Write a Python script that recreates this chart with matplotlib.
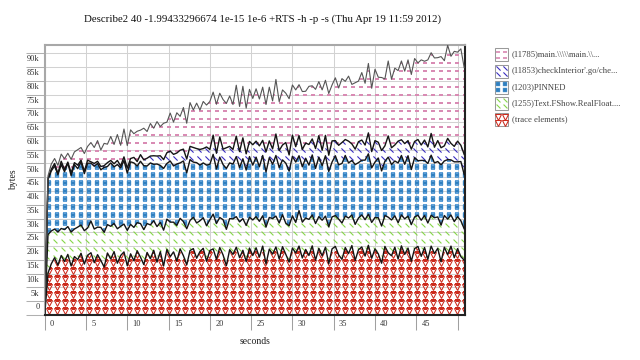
import numpy as np
import matplotlib
matplotlib.use("Agg")
import matplotlib.pyplot as plt
from matplotlib.path import Path
from matplotlib.patches import Rectangle
from matplotlib.transforms import ScaledTranslation

plt.rcParams['font.family'] = ['Liberation Serif', 'DejaVu Serif']

title = "Describe2 40 -1.99433296674 1e-15 1e-6 +RTS -h -p -s (Thu Apr 19 11:59 2012)"

# sample times (seconds)
sample_interval = 0.4
n_samples = 128
times = [round(i * sample_interval, 1) for i in range(n_samples)]

# band sizes in kilobytes, bottom to top
trace_elements = [
    0, 15.2, 18.6, 20.8, 18.1, 21.6, 19.4, 22.0, 17.8, 21.2, 20.1, 22.4, 18.5, 21.7, 22.6, 19.0,
    21.9, 19.8, 17.4, 22.5, 20.3, 23.0, 18.8, 21.6, 22.9, 17.9, 22.2, 19.7, 23.3, 21.0, 18.3, 22.7,
    20.4, 23.5, 19.2, 23.0, 17.8, 23.8, 21.2, 22.9, 19.6, 24.0, 21.5, 18.2, 23.4, 24.1, 20.6, 23.0,
    24.2, 19.5, 23.4, 24.0, 20.2, 24.5, 21.8, 17.9, 23.7, 22.0, 24.6, 20.8, 23.5, 19.4, 24.3, 21.6,
    24.4, 21.0, 25.0, 18.5, 23.9, 22.1, 24.7, 20.3, 24.8, 22.0, 19.2, 24.3, 22.5, 25.0, 20.7, 23.8,
    21.6, 25.1, 19.9, 24.2, 21.5, 24.6, 18.6, 24.0, 24.9, 21.8, 20.2, 24.5, 22.3, 25.2, 19.8, 23.7,
    24.7, 21.4, 25.3, 20.6, 24.0, 22.2, 18.8, 24.9, 22.6, 21.5, 24.6, 20.3, 25.1, 22.0, 24.3, 19.5,
    24.1, 24.9, 21.3, 24.5, 20.2, 25.0, 22.3, 24.2, 19.3, 24.6, 21.9, 25.0, 20.8, 24.1, 21.2, 19.9,
]
text_fshow = [
    0, 14.0, 11.9, 10.4, 12.0, 9.8, 11.6, 10.1, 12.3, 10.0, 11.8, 10.3, 12.1, 9.9, 11.5, 12.2,
    10.0, 12.0, 12.6, 10.3, 11.9, 10.2, 12.5, 10.6, 10.1, 12.8, 10.7, 12.1, 10.2, 12.2, 12.7, 10.5,
    12.3, 10.7, 12.9, 10.6, 13.0, 11.0, 12.5, 10.8, 12.9, 11.1, 12.4, 13.1, 10.9, 11.4, 12.8, 11.2,
    11.1, 12.9, 11.2, 12.6, 13.0, 10.9, 12.8, 13.2, 11.3, 12.9, 11.1, 13.0, 11.5, 13.1, 11.2, 12.9,
    11.3, 13.0, 11.0, 13.4, 11.5, 12.9, 11.2, 13.1, 11.6, 11.3, 13.2, 11.7, 11.1, 12.9, 13.0, 11.4,
    13.1, 11.2, 13.3, 11.5, 12.9, 11.3, 13.4, 11.6, 11.2, 13.0, 13.2, 11.4, 12.9, 11.1, 13.1, 11.5,
    11.6, 13.2, 11.3, 13.0, 11.4, 13.1, 13.5, 11.2, 12.9, 13.0, 11.4, 13.2, 11.2, 12.9, 11.6, 13.3,
    11.5, 11.3, 13.1, 11.6, 13.2, 11.2, 13.0, 11.4, 13.3, 11.5, 12.9, 11.3, 13.1, 11.6, 13.0, 11.4,
]
pinned = [
    0, 20.0, 21.8, 22.9, 20.8, 23.2, 21.0, 23.0, 20.5, 23.4, 21.2, 22.9, 20.7, 23.5, 21.0, 22.8,
    23.1, 20.9, 23.6, 21.1, 23.0, 20.6, 23.3, 21.2, 23.1, 20.8, 22.7, 23.4, 20.6, 22.6, 23.2, 20.9,
    22.5, 20.5, 22.7, 20.7, 22.4, 20.2, 22.2, 20.4, 22.3, 20.1, 22.0, 20.3, 22.1, 20.0, 21.9, 20.2,
    19.9, 22.0, 20.1, 21.7, 19.8, 21.9, 20.0, 22.1, 20.2, 19.9, 21.8, 19.7, 21.7, 20.1, 22.0, 19.9,
    21.6, 19.8, 21.9, 20.0, 21.7, 19.7, 22.0, 20.1, 19.9, 21.8, 19.8, 21.6, 21.9, 19.9, 20.1, 21.7,
    19.7, 21.8, 20.0, 21.6, 19.8, 21.9, 20.1, 19.9, 21.7, 19.7, 21.6, 22.0, 20.0, 19.8, 21.7, 20.1,
    19.9, 21.6, 21.9, 19.8, 20.1, 21.7, 20.0, 19.7, 21.8, 20.1, 19.9, 21.7, 21.6, 19.8, 21.9, 20.0,
    21.5, 19.8, 21.7, 20.0, 21.6, 21.8, 19.9, 20.1, 21.9, 19.8, 21.6, 20.0, 21.7, 19.9, 21.5, 19.7,
]
check_interior = [
    0, 0.3, 0.6, 0.9, 0.5, 1.2, 0.8, 0.4, 1.0, 0.7, 1.3, 0.6, 0.9, 1.1, 0.5, 1.0,
    0.8, 1.2, 0.6, 1.4, 0.9, 1.1, 1.5, 0.7, 1.3, 1.8, 1.2, 2.0, 1.6, 2.4, 2.1, 2.8,
    2.5, 3.1, 2.9, 3.5, 3.2, 3.9, 3.6, 4.2, 4.0, 4.6, 4.3, 5.0, 4.8, 5.3, 5.1, 5.7,
    5.2, 6.6, 5.4, 7.0, 5.7, 7.3, 5.6, 7.5, 6.0, 5.3, 7.4, 5.8, 7.6, 5.9, 5.5, 7.4,
    5.8, 7.6, 5.5, 7.3, 6.1, 5.6, 7.8, 6.2, 5.4, 7.5, 5.9, 7.7, 5.6, 7.3, 6.3, 5.5,
    7.5, 5.8, 7.2, 7.8, 5.6, 7.4, 5.9, 7.7, 5.5, 7.1, 7.6, 5.8, 7.9, 6.0, 5.6, 7.6,
    7.3, 5.5, 7.6, 5.9, 7.8, 5.7, 7.4, 5.6, 7.7, 6.1, 5.8, 7.9, 5.7, 7.5, 5.5, 7.4,
    5.9, 7.7, 5.6, 7.4, 6.0, 7.9, 5.7, 7.6, 6.2, 5.5, 7.7, 6.0, 5.6, 7.5, 5.9, 7.3,
]
main_cc = [
    0, 1.0, 1.9, 1.8, 2.9, 2.6, 3.9, 3.2, 4.9, 3.9, 5.6, 4.6, 6.4, 5.0, 7.0, 5.8,
    7.5, 6.0, 8.1, 6.7, 8.7, 7.0, 9.4, 7.5, 10.1, 8.2, 10.4, 8.6, 11.0, 8.9, 11.5, 9.7,
    11.8, 10.0, 12.5, 10.6, 13.2, 11.1, 13.8, 11.7, 14.6, 12.3, 15.1, 13.0, 15.9, 13.6, 16.5, 14.3,
    17.1, 15.2, 17.4, 15.6, 17.8, 15.9, 18.0, 16.1, 18.3, 16.3, 18.5, 16.4, 18.7, 16.6, 18.9, 16.8,
    19.0, 17.0, 19.3, 17.2, 19.5, 17.4, 19.8, 17.7, 20.0, 17.9, 20.4, 18.2, 20.6, 18.5, 21.0, 18.8,
    21.1, 19.3, 21.5, 19.6, 21.9, 20.0, 22.4, 20.3, 22.8, 20.8, 23.2, 21.1, 23.6, 21.6, 24.1, 22.0,
    24.5, 22.4, 25.2, 23.0, 25.9, 23.6, 26.5, 24.3, 27.2, 24.9, 27.9, 25.6, 28.6, 26.3, 29.3, 27.1,
    30.1, 27.8, 30.9, 28.6, 31.6, 29.3, 32.4, 30.1, 33.1, 30.9, 33.8, 31.6, 34.5, 32.3, 35.0, 31.5,
]

# legend order (top to bottom in legend)
legend_names = [
    r"(11785)main.\\\\\main.\\...",
    "(11853)checkInterior'.go/che...",
    "(1203)PINNED",
    "(1255)Text.FShow.RealFloat....",
    "(trace elements)",
]

x_ticks = [0, 5, 10, 15, 20, 25, 30, 35, 40, 45, 50]
x_tick_labels = ['0', '5', '10', '15', '20', '25', '30', '35', '40', '45', '']
y_ticks = [0, 5, 10, 15, 20, 25, 30, 35, 40, 45, 50, 55, 60, 65, 70, 75, 80, 85, 90, 95]
y_tick_labels = ['0', '5k', '10k', '15k', '20k', '25k', '30k', '35k', '40k', '45k', '50k',
                 '55k', '60k', '65k', '70k', '75k', '80k', '85k', '90k', '']

# ---------------- styles ----------------
diag = Path([(-1, 1), (1, -1)], [Path.MOVETO, Path.LINETO])
hdash = Path([(-1, 0), (1, 0)], [Path.MOVETO, Path.LINETO])
styles = [  # bottom to top
    dict(marker='v', ms=3.7, mfc='none', mec='#cc2b1d', mew=0.75),
    dict(marker=diag, ms=2.8, mfc='none', mec='#86d64a', mew=0.8),
    dict(marker='s', ms=2.4, mfc='#2f7fbf', mec='#5f9fd6', mew=0.3),
    dict(marker=diag, ms=3.0, mfc='none', mec='#3a2fbf', mew=0.8),
    dict(marker=hdash, ms=2.8, mfc='none', mec='#d98bb4', mew=1.25),
]
offsets = [(4, 4), (2, 2), (4, 4), (2, 5), (4, 4)]

fig = plt.figure(figsize=(6.4, 3.6), dpi=100)
L, R, T, B = 44.7, 465.0, 45.0, 315.0
ax = fig.add_axes([L / 640, 1 - B / 360, (R - L) / 640, (B - T) / 360])
W, H = R - L, B - T

bands = [trace_elements, text_fshow, pinned, check_interior, main_cc]
tarr = np.array(times)
cum = np.cumsum(np.array(bands), axis=0)
lower = np.vstack([np.zeros(len(times)), cum[:-1]])

step = 8.0
for k in range(len(bands)):
    poly = ax.fill_between(tarr, lower[k], cum[k], facecolor='none', edgecolor='none', lw=0)
    ox, oy = offsets[k]
    gx, gy = np.meshgrid(np.arange(ox, W, step) / W, np.arange(oy, H, step) / H)
    ln, = ax.plot(gx.ravel(), gy.ravel(), ls='none', transform=ax.transAxes,
                  zorder=2, **styles[k])
    ln.set_clip_path(poly.get_paths()[0], ax.transData)

for k in range(len(bands)):
    if k == len(bands) - 1:
        ax.plot(tarr, cum[k], color='#555555', lw=0.8, zorder=3)
    else:
        ax.plot(tarr, cum[k], color='#151515', lw=1.0, zorder=3)

ax.set_xlim(0, 50.9)
ax.set_ylim(0, 98.0)
ax.set_axisbelow(True)
ax.grid(True, color='#d2d2d2', lw=0.75)

for side in ('left', 'top'):
    ax.spines[side].set_color('#a8a8a8')
    ax.spines[side].set_linewidth(1.5)
for side in ('bottom', 'right'):
    ax.spines[side].set_color('#222222')
    ax.spines[side].set_linewidth(1.5)

ax.set_xticks(x_ticks, x_tick_labels)
ax.set_yticks(y_ticks, y_tick_labels)
ax.tick_params(axis='x', length=10.5, width=0.75, color='#a0a0a0', pad=-2.8,
               labelsize=6, labelcolor='#333333')
ax.tick_params(axis='y', length=13.5, width=0.75, color='#b0b0b0', pad=-9.75,
               labelsize=6, labelcolor='#333333')
for lab in ax.get_xticklabels():
    lab.set_ha('left')
    lab.set_va('baseline')
    lab.set_transform(lab.get_transform() + ScaledTranslation(5.3 / 100, 0, fig.dpi_scale_trans))
for lab in ax.get_yticklabels():
    lab.set_va('baseline')
    lab.set_transform(lab.get_transform() + ScaledTranslation(0, 5.7 / 100, fig.dpi_scale_trans))

fig.text(262 / 640, 1 - 19 / 360, title, ha='center', va='center', fontsize=7.85, color='#111111')
fig.text(255 / 640, 1 - 341.5 / 360, 'seconds', ha='center', va='center', fontsize=7, color='#222222')
fig.text(13.5 / 640, 1 - 180 / 360, 'bytes', ha='center', va='center', rotation=90,
         fontsize=7, color='#222222')

# legend
lax = fig.add_axes([0, 0, 1, 1])
lax.set_xlim(0, 640)
lax.set_ylim(360, 0)
lax.axis('off')
lax.patch.set_visible(False)
centers = [54.5, 71.0, 87.0, 103.2, 119.5]
for i, name in enumerate(legend_names):
    k = len(bands) - 1 - i
    cy = centers[i]
    rect = Rectangle((495, cy - 6.5), 13, 13, facecolor='white', edgecolor='#9a9a9a', lw=0.75)
    lax.add_patch(rect)
    px = [498.3, 504.7, 498.3, 504.7]
    py = [cy - 3.0, cy - 3.0, cy + 3.2, cy + 3.2]
    m, = lax.plot(px, py, ls='none', zorder=3, **styles[k])
    m.set_clip_path(rect)
    lax.text(512, cy, name, ha='left', va='center', fontsize=6.2, color='#444444')

fig.savefig('out.png', dpi=100)
